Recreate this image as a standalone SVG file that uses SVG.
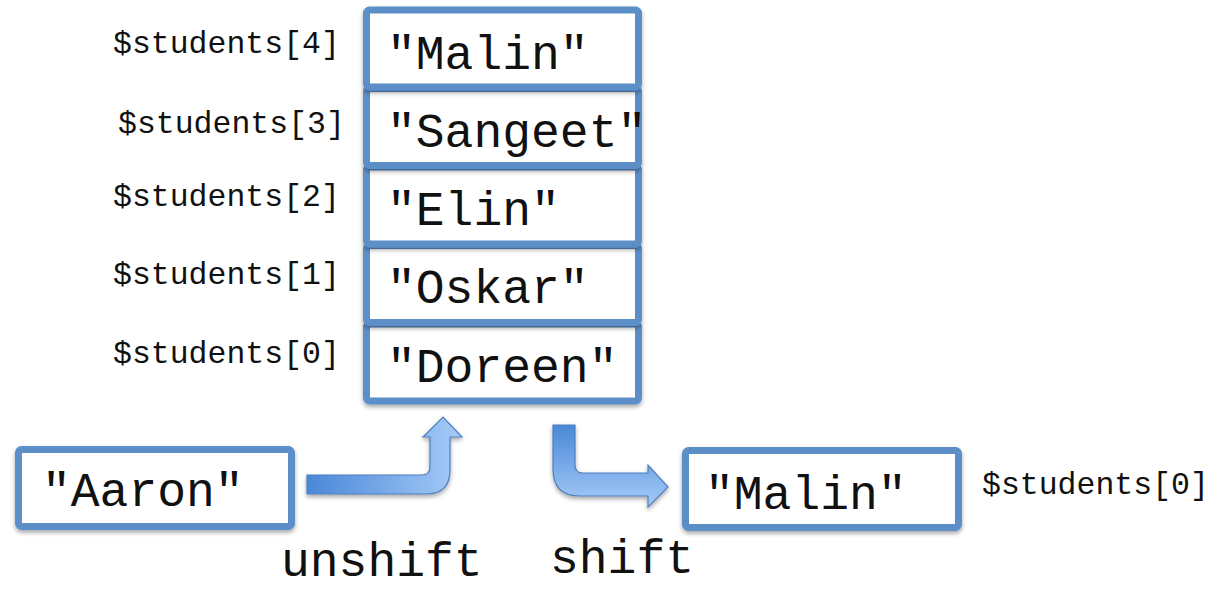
<svg xmlns="http://www.w3.org/2000/svg" width="1216" height="591" viewBox="0 0 1216 591">
  <defs>
    <filter id="shadow" x="-10%" y="-10%" width="120%" height="130%">
      <feDropShadow dx="0" dy="2.5" stdDeviation="2" flood-color="#000" flood-opacity="0.35"/>
    </filter>
    <linearGradient id="gradH" x1="0" y1="0" x2="1" y2="0">
      <stop offset="0" stop-color="#4a88d8"/>
      <stop offset="1" stop-color="#a6cbf8"/>
    </linearGradient>
    <linearGradient id="gradV" x1="0" y1="0" x2="0" y2="1">
      <stop offset="0" stop-color="#4a88d8"/>
      <stop offset="1" stop-color="#a6cbf8"/>
    </linearGradient>
  </defs>
  <style>
    .box { fill: #ffffff; stroke: #5b8fc8; stroke-width: 7; filter: url(#shadow); }
    .val { font-family: "Liberation Mono", "Courier New", monospace; font-size: 48px; fill: #111; }
    .idx { font-family: "Liberation Mono", "Courier New", monospace; font-size: 31.5px; fill: #111; }
    .op  { font-family: "Liberation Mono", "Courier New", monospace; font-size: 48px; fill: #111; }
    .arrow { stroke: #4f7fbf; stroke-width: 1.2; filter: url(#shadow); }
  </style>
  <rect width="1216" height="591" fill="#ffffff"/>

  <!-- array stack, drawn bottom-up so each upper cell overlaps the one below -->
  <g id="cell0">
    <rect class="box" x="366.5" y="324" width="272" height="77" rx="3"/>
    <text class="val" x="387" y="382">"Doreen"</text>
  </g>
  <g id="cell1">
    <rect class="box" x="366.5" y="245.5" width="272" height="77" rx="3"/>
    <text class="val" x="387" y="303">"Oskar"</text>
  </g>
  <g id="cell2">
    <rect class="box" x="366.5" y="167" width="272" height="77" rx="3"/>
    <text class="val" x="387" y="225">"Elin"</text>
  </g>
  <g id="cell3">
    <rect class="box" x="366.5" y="88.5" width="272" height="77" rx="3"/>
    <text class="val" x="387" y="147">"Sangeet"</text>
  </g>
  <g id="cell4">
    <rect class="box" x="366.5" y="10" width="272" height="77" rx="3"/>
    <text class="val" x="387" y="69">"Malin"</text>
  </g>

  <!-- index labels -->
  <g id="labels">
    <text class="idx" x="113" y="53">$students[4]</text>
    <text class="idx" x="118" y="133">$students[3]</text>
    <text class="idx" x="113" y="206">$students[2]</text>
    <text class="idx" x="113" y="284">$students[1]</text>
    <text class="idx" x="113" y="363">$students[0]</text>
  </g>

  <!-- incoming element -->
  <g id="aaron">
    <rect class="box" x="18.5" y="449.5" width="273" height="77" rx="3"/>
    <text class="val" x="42" y="506">"Aaron"</text>
  </g>

  <!-- removed element -->
  <g id="removed">
    <rect class="box" x="685.5" y="450.5" width="273" height="77" rx="3"/>
    <text class="val" x="705" y="509">"Malin"</text>
    <text class="idx" x="982" y="494">$students[0]</text>
  </g>

  <!-- bent arrows -->
  <g id="connectors">
    <path class="arrow" fill="url(#gradH)"
      d="M307,475 L422,475 Q430,475 430,467 L430,437 L423,437 L443,417 L462,437 L450,437 L450,470 Q450,494 426,494 L307,494 Z"/>
    <path class="arrow" fill="url(#gradV)"
      d="M553,425 L575,425 L575,465 Q575,473 583,473 L648,473 L648,465 L668,487 L648,507 L648,496 L580,496 Q553,496 553,469 Z"/>
  </g>

  <!-- operation names -->
  <g id="ops">
    <text class="op" x="281" y="576">unshift</text>
    <text class="op" x="550" y="573">shift</text>
  </g>
</svg>
